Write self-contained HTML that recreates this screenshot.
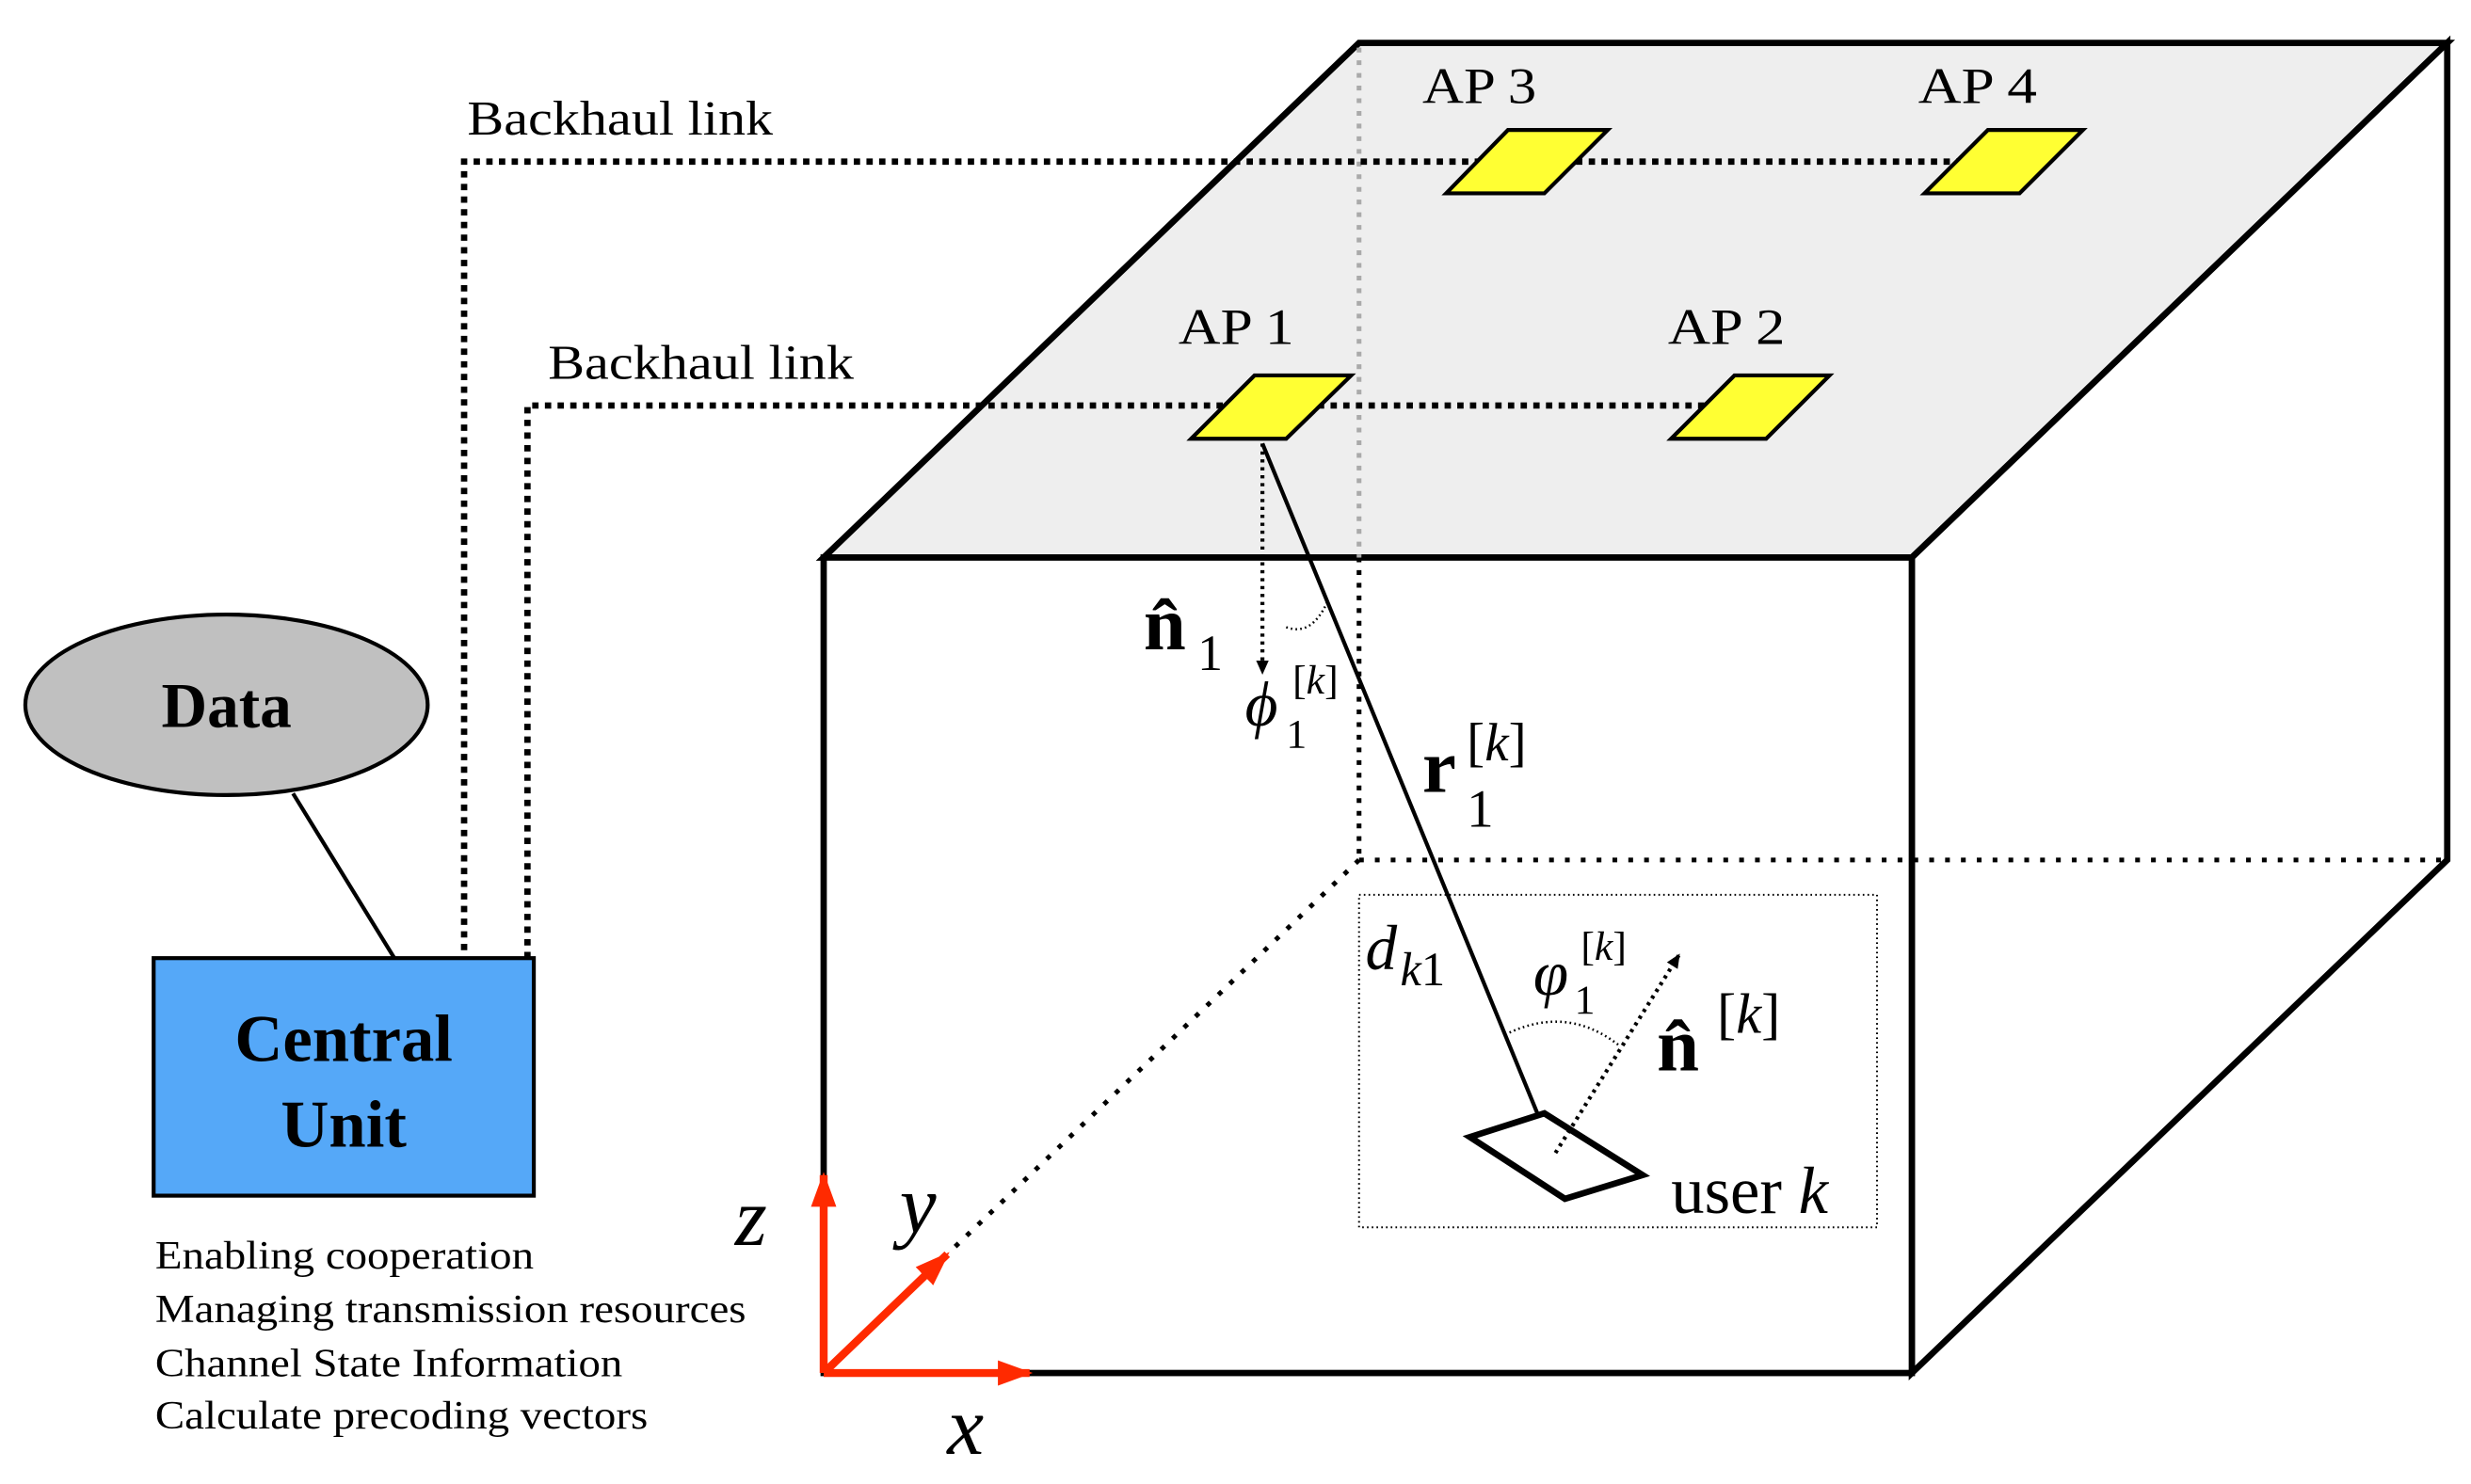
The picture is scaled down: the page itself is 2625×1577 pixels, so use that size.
<!DOCTYPE html>
<html><head><meta charset="utf-8"><style>
html,body{margin:0;padding:0;background:#fff;}
svg{display:block;}
text{font-family:"Liberation Serif",serif;fill:#000;}
</style></head><body>
<svg width="2625" height="1577" viewBox="0 0 1560 937" xmlns="http://www.w3.org/2000/svg">
<defs>
<marker id="ar" markerWidth="10" markerHeight="10" refX="8" refY="5" orient="auto" markerUnits="userSpaceOnUse"><path d="M0,1 L9,5 L0,9 z" fill="#000"/></marker>
<marker id="rr" markerWidth="24" markerHeight="24" refX="20" refY="12" orient="auto" markerUnits="userSpaceOnUse"><path d="M0,4 L22,12 L0,20 z" fill="#ff2a00"/></marker>
</defs>
<polygon points="520,352 858,27 1545,27 1207,352" fill="#eeeeee" stroke="#000" stroke-width="4"/>
<polygon points="1207,352 1545,27 1545,543 1207,867" fill="#fff" stroke="#000" stroke-width="4"/>
<rect x="520" y="352" width="687" height="515" fill="#fff" stroke="#000" stroke-width="4"/>
<line x1="858" y1="30" x2="858" y2="352" stroke="#aaa" stroke-width="3" stroke-dasharray="3,5"/>
<line x1="858" y1="352" x2="858" y2="543" stroke="#000" stroke-width="3" stroke-dasharray="3,5"/>
<line x1="858" y1="543" x2="1545" y2="543" stroke="#000" stroke-width="3" stroke-dasharray="3,7"/>
<line x1="858" y1="543" x2="598" y2="792" stroke="#000" stroke-width="3" stroke-dasharray="3,7"/>
<polyline points="293,600 293,102 1240,102" fill="none" stroke="#000" stroke-width="4" stroke-dasharray="4,4"/>
<polyline points="333,605 333,256 1080,256" fill="none" stroke="#000" stroke-width="4" stroke-dasharray="4,4"/>
<text x="295" y="85" font-size="31" textLength="193" lengthAdjust="spacingAndGlyphs">Backhaul link</text>
<text x="346" y="239" font-size="31" textLength="193" lengthAdjust="spacingAndGlyphs">Backhaul link</text>
<g fill="#ffff33" stroke="#000" stroke-width="2.5">
<polygon points="913,122 952,82 1015,82 975,122"/>
<polygon points="1215,122 1255,82 1315,82 1275,122"/>
<polygon points="752,277 792,237 853,237 812,277"/>
<polygon points="1055,277 1095,237 1155,237 1115,277"/>
</g>
<text x="898" y="65" font-size="32" textLength="72" lengthAdjust="spacingAndGlyphs">AP 3</text>
<text x="1211" y="65" font-size="32" textLength="75" lengthAdjust="spacingAndGlyphs">AP 4</text>
<text x="744" y="217" font-size="32" textLength="73" lengthAdjust="spacingAndGlyphs">AP 1</text>
<text x="1053" y="217" font-size="32" textLength="74" lengthAdjust="spacingAndGlyphs">AP 2</text>
<ellipse cx="143" cy="445" rx="127" ry="57" fill="#c0c0c0" stroke="#000" stroke-width="2.5"/>
<text x="143" y="459" font-size="40" font-weight="bold" text-anchor="middle">Data</text>
<line x1="185" y1="501" x2="249" y2="605" stroke="#000" stroke-width="2.5"/>
<rect x="97" y="605" width="240" height="150" fill="#55a8f8" stroke="#000" stroke-width="2.5"/>
<text x="217" y="670" font-size="42" font-weight="bold" text-anchor="middle">Central</text>
<text x="217" y="724" font-size="42" font-weight="bold" text-anchor="middle">Unit</text>
<g font-size="25" lengthAdjust="spacingAndGlyphs">
<text x="98" y="801" textLength="239" lengthAdjust="spacingAndGlyphs">Enabling cooperation</text>
<text x="98" y="835" textLength="373" lengthAdjust="spacingAndGlyphs">Managing transmission resources</text>
<text x="98" y="869" textLength="295" lengthAdjust="spacingAndGlyphs">Channel State Information</text>
<text x="98" y="902" textLength="311" lengthAdjust="spacingAndGlyphs">Calculate precoding vectors</text>
</g>
<line x1="520" y1="867" x2="520" y2="742" stroke="#ff2a00" stroke-width="5" marker-end="url(#rr)"/>
<line x1="520" y1="867" x2="650" y2="867" stroke="#ff2a00" stroke-width="5" marker-end="url(#rr)"/>
<line x1="520" y1="867" x2="598" y2="792" stroke="#ff2a00" stroke-width="5" marker-end="url(#rr)"/>
<text x="464" y="786" font-size="52" font-style="italic">z</text>
<text x="568" y="778" font-size="52" font-style="italic">y</text>
<text x="598" y="918" font-size="52" font-style="italic">x</text>
<line x1="797" y1="280" x2="980" y2="726" stroke="#000" stroke-width="2.5" marker-end="url(#ar)"/>
<line x1="797" y1="280" x2="797" y2="425" stroke="#000" stroke-width="2.5" stroke-dasharray="2,3" marker-end="url(#ar)"/>
<path d="M812,396 Q828,402 838,380" fill="none" stroke="#000" stroke-width="1.5" stroke-dasharray="1,2"/>
<text x="722" y="410" font-size="48" font-weight="bold">n̂</text>
<text x="756" y="423" font-size="32">1</text>
<text x="786" y="458" font-size="40" font-style="italic">ϕ</text>
<text x="812" y="472" font-size="26">1</text>
<text x="816" y="438" font-size="26">[<tspan font-style="italic">k</tspan>]</text>
<text x="898" y="500" font-size="48" font-weight="bold">r</text>
<text x="926" y="522" font-size="34">1</text>
<text x="926" y="480" font-size="34">[<tspan font-style="italic">k</tspan>]</text>
<rect x="858" y="565" width="327" height="210" fill="none" stroke="#000" stroke-width="1.2" stroke-dasharray="1,2"/>
<polygon points="928,718 975,703 1037,742 988,757" fill="#fff" stroke="#000" stroke-width="4"/>
<line x1="982" y1="728" x2="1060" y2="603" stroke="#000" stroke-width="2.5" stroke-dasharray="2,3" marker-end="url(#ar)"/>
<path d="M953,652 Q990,635 1022,660" fill="none" stroke="#000" stroke-width="1.5" stroke-dasharray="1,2"/>
<text x="862" y="612" font-size="40" font-style="italic">d</text>
<text x="884" y="622" font-size="30"><tspan font-style="italic">k</tspan>1</text>
<text x="968" y="628" font-size="40" font-style="italic">φ</text>
<text x="994" y="640" font-size="26">1</text>
<text x="998" y="606" font-size="26">[<tspan font-style="italic">k</tspan>]</text>
<text x="1046" y="676" font-size="48" font-weight="bold">n̂</text>
<text x="1084" y="652" font-size="36">[<tspan font-style="italic">k</tspan>]</text>
<text x="1055" y="766" font-size="42">user <tspan font-style="italic">k</tspan></text>
</svg>
</body></html>
